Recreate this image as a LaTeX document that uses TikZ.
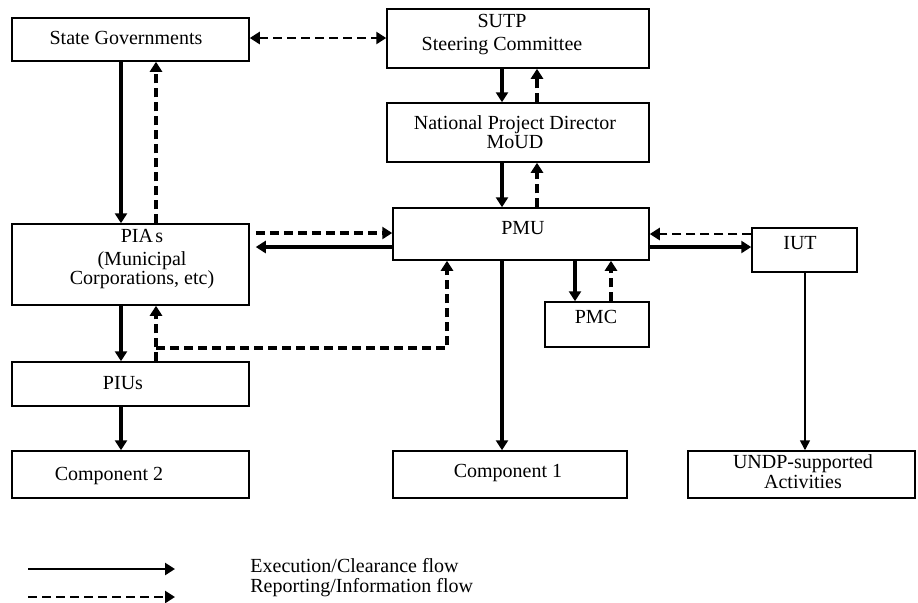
\documentclass[tikz,border=0pt]{standalone}
\usepackage{fontspec}
\setmainfont{Liberation Serif}
\usetikzlibrary{arrows.meta,fit}
\begin{document}
\begin{tikzpicture}[x=0.5pt,y=-0.5pt,
  >={Triangle[length=5pt,width=6pt]},
  box/.style={draw, line width=0.75pt, inner sep=0pt, rectangle},
  txt/.style={font=\fontsize{10}{9.5}\selectfont, align=center, inner sep=0pt},
  exec/.style={line width=1.6pt, ->},
  info/.style={line width=1.6pt, dash pattern=on 4.5pt off 2.5pt, ->},
]
\useasboundingbox (0,0) rectangle (918,602);

% boxes
\node[box, fit={(12,18) (249,61)}] (sg) {};
\node[box, fit={(387,9) (649,68)}] (sutp) {};
\node[box, fit={(387,103) (649,162)}] (npd) {};
\node[box, fit={(393,208) (649,260)}] (pmu) {};
\node[box, fit={(12,224) (249,305)}] (pias) {};
\node[box, fit={(12,362) (249,406)}] (pius) {};
\node[box, fit={(545,302) (649,347)}] (pmc) {};
\node[box, fit={(752,228) (857,272)}] (iut) {};
\node[box, fit={(12,451) (249,498)}] (comp2) {};
\node[box, fit={(393,451) (627,498)}] (comp1) {};
\node[box, fit={(688,451) (915,498)}] (undp) {};

% texts
\node[txt] (sgt) at (126,38) {State Governments};
\node[txt, font=\fontsize{10}{11.5}\selectfont] (sutpt) at (502,34.5) {SUTP\\Steering Committee};
\node[txt] (npdt) at (515,132.5) {National Project Director\\MoUD};
\node[txt] (pmut) at (523,228) {PMU};
\node[txt] (piast) at (142,259) {PIA\hspace{0.12em}s\\[2pt](Municipal\\Corporations, etc)};
\node[txt] (piust) at (123,383) {PIUs};
\node[txt] (pmct) at (596,317) {PMC};
\node[txt] (iutt) at (800,243) {IUT};
\node[txt] (comp2t) at (109,476) {Component 2};
\node[txt] (comp1t) at (508,473) {Component 1};
\node[txt, font=\fontsize{10}{10}\selectfont] (undpt) at (803,472) {UNDP-supported\\Activities};

% connectors
\draw[info, <->, line width=1.3pt] (sg.east |- 0,38) -- (sutp.west |- 0,38);
\draw[exec] (121,0 |- sg.south) -- (121,0 |- pias.north);
\draw[info] (156,0 |- pias.north) -- (156,0 |- sg.south);
\draw[exec] (502,0 |- sutp.south) -- (502,0 |- npd.north);
\draw[info] (537,0 |- npd.north) -- (537,0 |- sutp.south);
\draw[exec] (502,0 |- npd.south) -- (502,0 |- pmu.north);
\draw[info] (537,0 |- pmu.north) -- (537,0 |- npd.south);
\draw[info, shorten <=3pt] (pias.east |- 0,233) -- (pmu.west |- 0,233);
\draw[exec, shorten >=3pt] (pmu.west |- 0,247) -- (pias.east |- 0,247);
\draw[exec] (121,0 |- pias.south) -- (121,0 |- pius.north);
\coordinate (br) at (156,348);
\draw[info] (156,0 |- pius.north) -- (br) -- (156,0 |- pias.south);
\draw[info] (br) -| (447,0 |- pmu.south);
\draw[exec] (121,0 |- pius.south) -- (121,0 |- comp2.north);
\draw[exec, line width=1.8pt] (502,0 |- pmu.south) -- (502,0 |- comp1.north);
\draw[exec] (575,0 |- pmu.south) -- (575,0 |- pmc.north);
\draw[info] (611,0 |- pmc.north) -- (611,0 |- pmu.south);
\draw[info, line width=1.3pt] (iut.west |- 0,234) -- (pmu.east |- 0,234);
\draw[exec] (pmu.east |- 0,247) -- (iut.west |- 0,247);
\draw[line width=0.8pt, -{Triangle[length=5pt,width=5pt]}] (805,0 |- iut.south) -- (805,0 |- undp.north);

% legend
\coordinate (l1a) at (28,569);
\coordinate (l1b) at (175,569);
\coordinate (l2a) at (28,597);
\coordinate (l2b) at (175,597);
\draw[exec, line width=1.4pt] (l1a) -- (l1b);
\draw[info, line width=1.3pt] (l2a) -- (l2b);
\node[txt, anchor=west] (leg1) at (250,566) {Execution/Clearance flow};
\node[txt, anchor=west] (leg2) at (250,588) {Reporting/Information flow};
\end{tikzpicture}
\end{document}
